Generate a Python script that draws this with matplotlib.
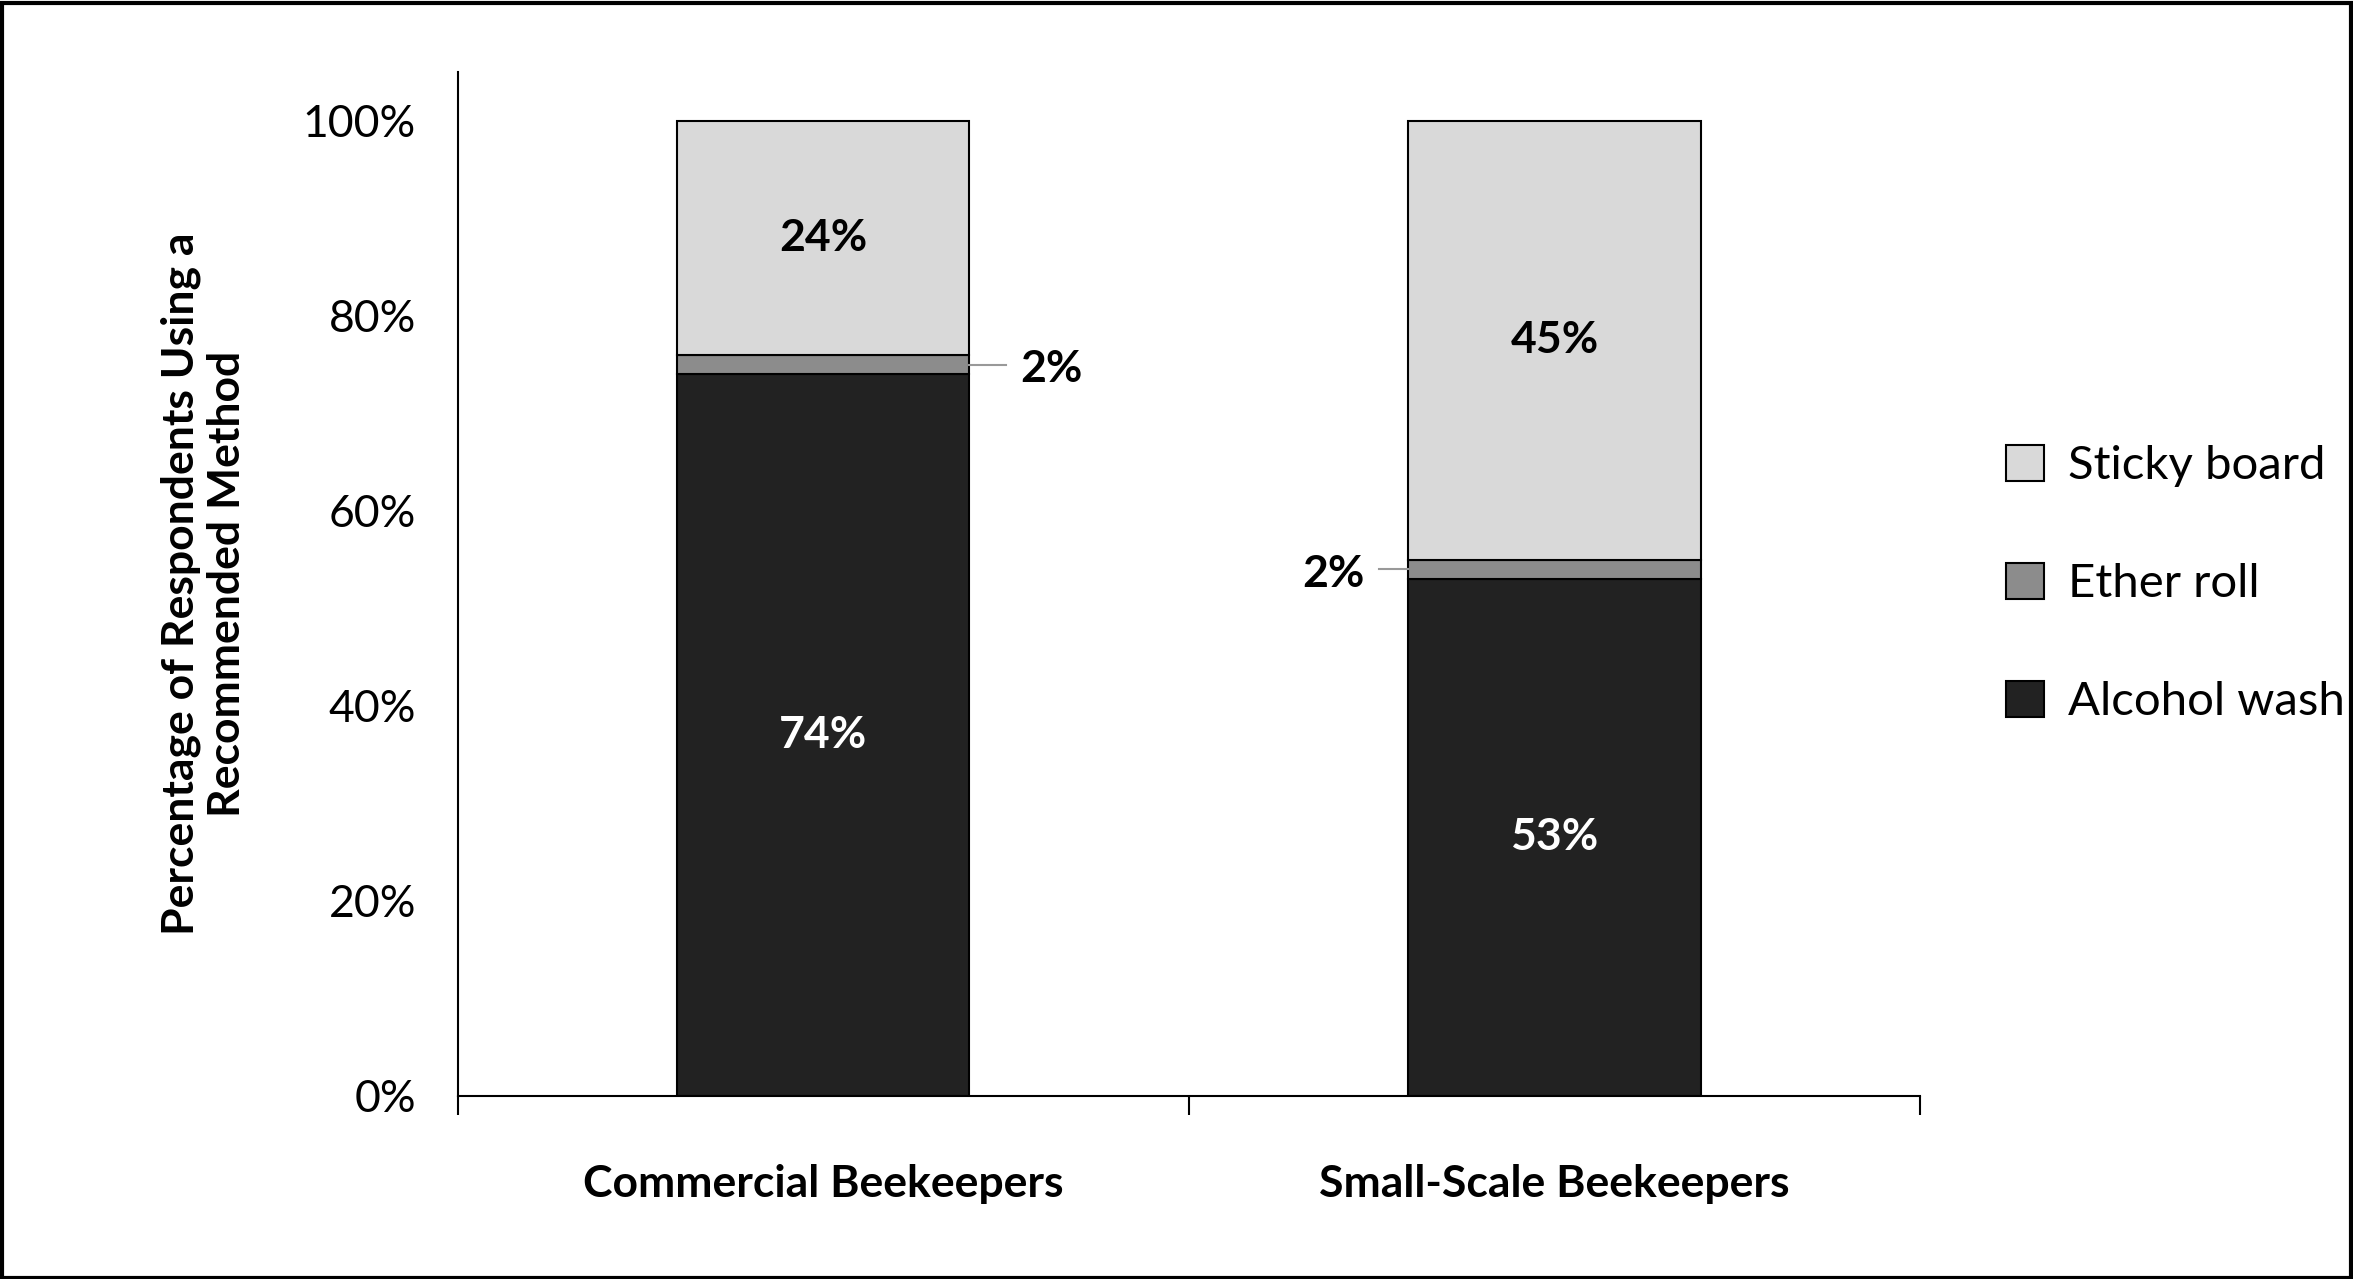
import matplotlib.pyplot as plt
from matplotlib.patches import Rectangle

plt.rcParams['font.family'] = ['Lato', 'DejaVu Sans']

groups = ['Commercial Beekeepers', 'Small-Scale Beekeepers']
alcohol = [74, 53]
ether = [2, 2]
sticky = [24, 45]

fig = plt.figure(figsize=(23.53, 12.79), dpi=100)
ax = fig.add_axes([0.1945, 0.1432, 0.6215, 0.8005])

x = [0, 1]
w = 0.4
kw = dict(width=w, edgecolor='black', linewidth=1.5)
ax.bar(x, alcohol, color='#222222', label='Alcohol wash', **kw)
ax.bar(x, ether, bottom=alcohol, color='#8c8c8c', label='Ether roll', **kw)
base2 = [a + e for a, e in zip(alcohol, ether)]
ax.bar(x, sticky, bottom=base2, color='#d9d9d9', label='Sticky board', **kw)

for i in x:
    ax.text(i, alcohol[i] / 2, f'{alcohol[i]}%', ha='center', va='center',
            color='white', fontsize=32, fontweight='bold')
    ax.text(i, base2[i] + sticky[i] / 2, f'{sticky[i]}%', ha='center', va='center',
            color='black', fontsize=32, fontweight='bold')

# ether roll callouts
ym = alcohol[0] + ether[0] / 2
ax.plot([0 + w / 2, 0 + w / 2 + 0.05], [ym, ym], color='#999999', lw=1.5)
ax.text(0 + w / 2 + 0.07, ym - 0.5, f'{ether[0]}%', ha='left', va='center',
        fontsize=32, fontweight='bold')
ym = alcohol[1] + ether[1] / 2
ax.plot([1 - w / 2, 1 - w / 2 - 0.04], [ym, ym], color='#999999', lw=1.5)
ax.text(1 - w / 2 - 0.06, ym - 0.5, f'{ether[1]}%', ha='right', va='center',
        fontsize=32, fontweight='bold')

ax.set_xlim(-0.5, 1.5)
ax.set_ylim(0, 105)
ax.set_yticks(range(0, 101, 20))
ax.set_yticklabels([f'{v}%' for v in range(0, 101, 20)], fontsize=32)
ax.set_xticks([-0.5, 0.5, 1.5], minor=False)
ax.set_xticklabels([])
ax.tick_params(axis='x', length=14, width=1.5, direction='out')
ax.tick_params(axis='y', length=0, pad=30)
for i, g in enumerate(groups):
    ax.text(i, -9, g, ha='center', va='center', fontsize=32, fontweight='bold',
            transform=ax.transData, clip_on=False)
for s in ['top', 'right']:
    ax.spines[s].set_visible(False)
ax.spines['left'].set_linewidth(1.5)
ax.spines['bottom'].set_linewidth(1.5)
ax.set_ylabel('Percentage of Respondents Using a\nRecommended Method', fontsize=32,
              fontweight='bold', labelpad=40, linespacing=1.2)

h, l = ax.get_legend_handles_labels()
leg = ax.legend(h[::-1], l[::-1], loc='center left', bbox_to_anchor=(1.03, 0.5),
                frameon=False, fontsize=34, handlelength=0.8, handleheight=0.8,
                labelspacing=1.6, handletextpad=0.5)

fig.patches.append(Rectangle((0.001, 0.001), 0.998, 0.997, transform=fig.transFigure,
                             fill=False, edgecolor='black', linewidth=3))
fig.savefig('out.png', dpi=100)
